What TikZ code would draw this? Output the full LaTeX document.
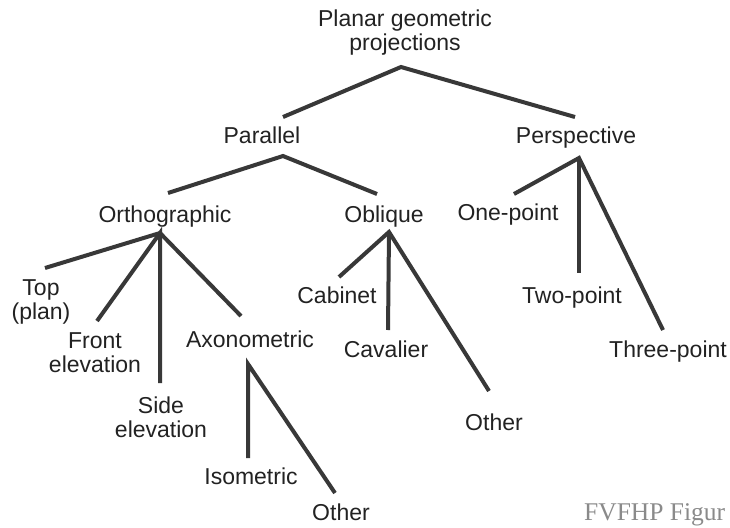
\documentclass[tikz,border=0pt]{standalone}
\usepackage{fontspec}
\setmainfont{Liberation Sans}
\newfontfamily\notefont{Liberation Serif}
\definecolor{ink}{HTML}{222222}
\definecolor{branch}{HTML}{383838}
\definecolor{notegrey}{HTML}{8A8A8A}
% two stacked lines whose baseline is that of the first line
\newcommand\twoline[2]{\begin{tabular}[t]{@{}c@{}}#1\\#2\end{tabular}}
\begin{document}
\begin{tikzpicture}[x=1pt,y=-1pt,
  label/.style={anchor=base,inner sep=0pt,text=ink,
    font=\fontsize{23}{24}\selectfont},
  branchline/.style={draw=branch,line width=4pt,line cap=butt,line join=miter}]
\useasboundingbox[fill=white] (0,0) rectangle (730,527);

% ---- labels ----
\node[label] (planar) at (405,27) {\twoline{Planar geometric}{projections}};
\node[label] (parallel) at (262,143) {Parallel};
\node[label] (perspective) at (576,143) {Perspective};
\node[label] (ortho) at (165,222) {Orthographic};
\node[label] (oblique) at (384,222) {Oblique};
\node[label] (onepoint) at (508,220) {One-point};
\node[label] (top) at (41,295) {\twoline{Top}{(plan)}};
\node[label] (front) at (95,348) {\twoline{Front}{elevation}};
\node[label] (side) at (161,413) {\twoline{Side}{elevation}};
\node[label] (axono) at (250,347) {Axonometric};
\node[label] (cabinet) at (337,303) {Cabinet};
\node[label] (cavalier) at (386,357) {Cavalier};
\node[label] (obother) at (494,430) {Other};
\node[label] (twopoint) at (572,303) {Two-point};
\node[label] (threepoint) at (668,357) {Three-point};
\node[label] (isometric) at (251,484) {Isometric};
\node[label] (axother) at (341,520) {Other};
\node[anchor=base west,inner sep=0pt,text=notegrey,
  font=\notefont\fontsize{25.5}{27}\selectfont] (note) at (584,520) {FVFHP Figur};

% ---- branch points ----
\coordinate (planar-j) at (401,67);
\coordinate (parallel-e) at (283,117);
\coordinate (perspective-e) at (575,117);

\coordinate (parallel-j) at (283,156);
\coordinate (ortho-e) at (168,193);
\coordinate (oblique-e) at (377,194);

\coordinate (perspective-j) at (579,158);
\coordinate (onepoint-e) at (514,194);
\coordinate (twopoint-e) at (579,273);
\coordinate (threepoint-e) at (663,330);

\coordinate (ortho-j) at (160,233);
\coordinate (top-e) at (45,268);
\coordinate (front-e) at (97,321);
\coordinate (side-e) at (160,383);
\coordinate (axono-e) at (241,316);

\coordinate (oblique-j) at (389,232);
\coordinate (cabinet-e) at (339,277);
\coordinate (cavalier-e) at (388,330);
\coordinate (obother-e) at (489,391);

\coordinate (axono-j) at (248,364);
\coordinate (isometric-e) at (248,458);
\coordinate (axother-e) at (335,493);

% ---- branches ----
\draw[branchline] (parallel-e) -- (planar-j) -- (perspective-e);
\draw[branchline] (ortho-e) -- (parallel-j) -- (oblique-e);
\draw[branchline] (onepoint-e) -- (perspective-j) -- (threepoint-e);
\draw[branchline] (perspective-j) -- (twopoint-e);
\draw[branchline] (top-e) -- (ortho-j) -- (axono-e);
\draw[branchline] (front-e) -- (ortho-j) -- (side-e);
\draw[branchline] (cabinet-e) -- (oblique-j) -- (obother-e);
\draw[branchline] (oblique-j) -- (cavalier-e);
\draw[branchline] (isometric-e) -- (axono-j) -- (axother-e);
\end{tikzpicture}
\end{document}
